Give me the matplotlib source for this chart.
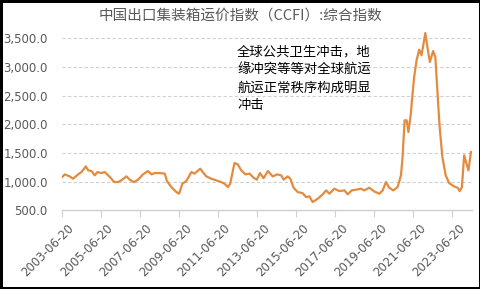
import numpy as np
import pandas as pd
import matplotlib
matplotlib.use("Agg")
import matplotlib.pyplot as plt
import matplotlib.dates as mdates
import matplotlib.transforms as mtransforms
from matplotlib.ticker import FuncFormatter

# CCFI composite index
dates = [
    "2003-06-20", "2003-08-20", "2003-11-20", "2004-01-20", "2004-04-25", "2004-06-25",
    "2004-09-15", "2004-10-30", "2005-01-01", "2005-03-01", "2005-04-20", "2005-07-05",
    "2005-09-05", "2005-12-10", "2006-02-28", "2006-05-10", "2006-07-10", "2006-10-15",
    "2006-12-15", "2007-03-05", "2007-05-20", "2007-08-20", "2007-11-20", "2008-01-25",
    "2008-03-25", "2008-06-25", "2008-09-30", "2008-11-10", "2009-02-01", "2009-05-05",
    "2009-06-25", "2009-08-25", "2009-11-05", "2010-02-10", "2010-04-10", "2010-07-25",
    "2010-09-10", "2010-11-15", "2011-02-15", "2011-05-20", "2011-08-20", "2011-10-20",
    "2011-12-25", "2012-02-05", "2012-04-25", "2012-06-25", "2012-08-30", "2012-11-15",
    "2013-02-01", "2013-04-15", "2013-06-15", "2013-08-15", "2013-10-20", "2014-01-10",
    "2014-04-10", "2014-07-01", "2014-09-15", "2014-11-01", "2015-01-15", "2015-03-05",
    "2015-05-05", "2015-07-20", "2015-10-20", "2015-12-25", "2016-02-25", "2016-04-25",
    "2016-07-30", "2016-10-30", "2017-01-01", "2017-03-05", "2017-06-05", "2017-09-05",
    "2017-12-10", "2018-02-10", "2018-04-25", "2018-07-15", "2018-10-15", "2018-12-15",
    "2019-03-20", "2019-06-20", "2019-09-25", "2019-11-25", "2020-01-25", "2020-03-25",
    "2020-06-10", "2020-08-30", "2020-11-01", "2020-12-01", "2021-01-08", "2021-02-15",
    "2021-03-20", "2021-05-05", "2021-05-25", "2021-07-05", "2021-08-20", "2021-10-08",
    "2021-11-20", "2021-12-28", "2022-01-30", "2022-03-10", "2022-04-25", "2022-06-25",
    "2022-08-05", "2022-09-05", "2022-10-01", "2022-10-25", "2022-12-15", "2023-02-15",
    "2023-04-20", "2023-07-20", "2023-09-25", "2023-11-05", "2023-12-15", "2024-01-26",
    "2024-03-10", "2024-04-15", "2024-06-01",
]
ccfi = [
    1070, 1127, 1092, 1052, 1127, 1167,
    1266, 1197, 1185, 1110, 1167, 1150,
    1167, 1080, 993, 993, 1023, 1092,
    1035, 993, 1035, 1127, 1185, 1127,
    1150, 1150, 1140, 1010, 906, 819,
    790, 965, 1010, 1167, 1140, 1226,
    1167, 1092, 1052, 1023, 993, 965,
    906, 965, 1324, 1301, 1197, 1127,
    1140, 1070, 1035, 1150, 1060, 1185,
    1092, 1127, 1110, 1035, 1092, 1052,
    895, 819, 801, 732, 744, 645,
    704, 779, 848, 791, 878, 836,
    848, 779, 848, 860, 878, 848,
    895, 830, 790, 848, 993, 895,
    848, 906, 1110, 1429, 2068, 2068,
    1864, 2185, 2416, 2822, 3113, 3299,
    3200, 3404, 3588, 3345, 3083, 3275,
    3171, 2700, 2300, 1950, 1429, 1110,
    976, 918, 895, 836, 906, 1458,
    1313, 1197, 1516,
]
tick_dates = ["2003-06-20", "2005-06-20", "2007-06-20", "2009-06-20", "2011-06-20",
              "2013-06-20", "2015-06-20", "2017-06-20", "2019-06-20", "2021-06-20",
              "2023-06-20"]
y_ticks = [500, 1000, 1500, 2000, 2500, 3000, 3500]

title = "中国出口集装箱运价指数（CCFI）:综合指数"
note = "全球公共卫生冲击，地\n缘冲突等等对全球航运\n航运正常秩序构成明显\n冲击"

cjk = ["Noto Sans CJK SC", "DejaVu Sans"]
grey = "#595959"

fig = plt.figure(figsize=(4.81, 2.89), dpi=100)
fig.patch.set_edgecolor("black")
fig.patch.set_linewidth(2.5)
ax = fig.add_axes([0.128, 0.272, 0.853, 0.636])

x = pd.to_datetime(dates)
ax.plot(x, ccfi, color="#E38B3E", linewidth=1.6)

ax.set_xlim(pd.Timestamp("2003-06-20"), pd.Timestamp("2024-06-18"))
ax.set_ylim(500, 3700)
ax.set_yticks(y_ticks)
ax.yaxis.set_major_formatter(FuncFormatter(lambda v, p: f"{v:,.1f}"))
ax.set_xticks(pd.to_datetime(tick_dates))
ax.xaxis.set_major_formatter(mdates.DateFormatter("%Y-%m-%d"))

for v in y_ticks[1:]:
    ax.axhline(v, color="#d0d0d0", linewidth=0.8, linestyle=(0, (3, 2)), zorder=0)

for s in ["top", "right", "left"]:
    ax.spines[s].set_visible(False)
ax.spines["bottom"].set_color("#d0d0d0")
ax.spines["bottom"].set_linewidth(1)
ax.tick_params(axis="y", length=0, labelsize=8.5, labelcolor=grey, pad=10)
ax.tick_params(axis="x", length=5, color="#d0d0d0", labelsize=8.5, labelcolor=grey, pad=1)
shift = mtransforms.ScaledTranslation(6 / 100, -3 / 100, fig.dpi_scale_trans)
for lab in ax.get_xticklabels():
    lab.set_rotation(45)
    lab.set_ha("right")
    lab.set_rotation_mode("anchor")
    lab.set_transform(lab.get_transform() + shift)

fig.text(0.5, 0.945, title, ha="center", va="center", fontsize=10.5, color=grey, family=cjk)
fig.text(0.493, 0.845, note, ha="left", va="top", fontsize=9.6, color="black",
         family=cjk, linespacing=1.35)

fig.savefig("out.png", dpi=100, edgecolor=fig.get_edgecolor())
